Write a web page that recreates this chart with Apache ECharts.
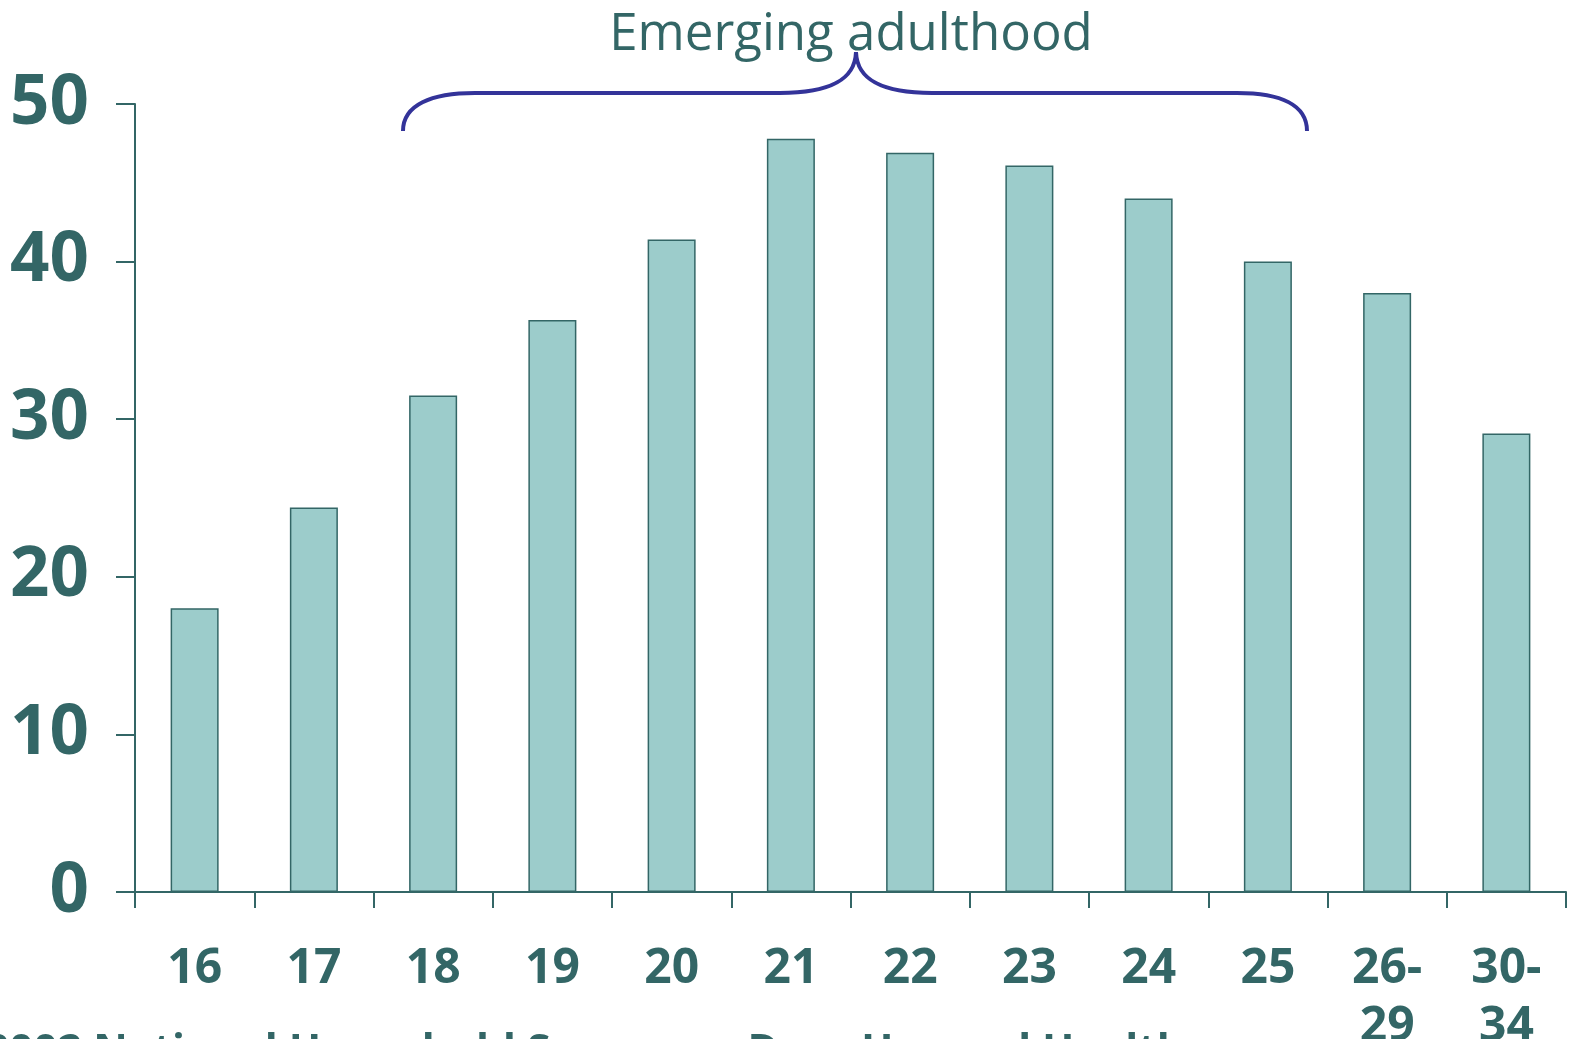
<!DOCTYPE html>
<html><head><meta charset="utf-8">
<script src="https://cdn.jsdelivr.net/npm/echarts@6/dist/echarts.min.js"></script>
<style>html,body{margin:0;padding:0;background:#fff;}#c{width:1579px;height:1039px;}</style>
</head><body><div id="c"></div>
<script>
const categories = ['16','17','18','19','20','21','22','23','24','25','26-\n29','30-\n34'];
const values = [18, 24.4, 31.5, 36.3, 41.4, 47.8, 46.9, 46.1, 44.0, 40.0, 38.0, 29.1];
const yTicks = [0, 10, 20, 30, 40, 50];
const bracketLabel = 'Emerging adulthood';
const sourceNote = '2002 National Household Survey on Drug Use and Health';

const teal = '#336666';
const braceStyle = {stroke: '#333399', lineWidth: 4, fill: 'none'};
function bez(x1,y1,c1x,c1y,c2x,c2y,x2,y2){
  return {type: 'bezierCurve', shape: {x1:x1,y1:y1,cpx1:c1x,cpy1:c1y,cpx2:c2x,cpy2:c2y,x2:x2,y2:y2}, style: braceStyle};
}
function seg(x1,y1,x2,y2){
  return {type: 'line', shape: {x1:x1,y1:y1,x2:x2,y2:y2}, style: braceStyle};
}
const chart = echarts.init(document.getElementById('c'), null, {renderer: 'canvas'});
chart.setOption({
  animation: false,
  grid: {left: 135, right: 13, top: 104, bottom: 147, containLabel: false, outerBoundsMode: 'none'},
  xAxis: {
    type: 'category', data: categories, boundaryGap: true,
    axisLine: {lineStyle: {color: teal, width: 2}},
    axisTick: {show: true, alignWithLabel: false, length: 16, lineStyle: {color: teal, width: 2}},
    axisLabel: {color: teal, fontFamily: 'Open Sans', fontWeight: 'bold', fontSize: 48, lineHeight: 58, margin: 48, interval: 0}
  },
  yAxis: {
    type: 'value', min: yTicks[0], max: yTicks[yTicks.length - 1], interval: 10,
    splitLine: {show: false},
    axisLine: {show: true, lineStyle: {color: teal, width: 2}},
    axisTick: {show: true, inside: false, length: 19, lineStyle: {color: teal, width: 2}},
    axisLabel: {color: teal, fontFamily: 'Open Sans', fontWeight: 'bold', fontSize: 69, margin: 46}
  },
  series: [{
    type: 'bar', data: values, barWidth: 48,
    itemStyle: {color: '#9ccccb', borderColor: teal, borderWidth: 1.5}
  }],
  graphic: [
    bez(403,131, 403,105, 431,93, 475,93),
    seg(475,93, 780,93),
    bez(780,93, 828,93, 855,81, 856,52),
    bez(856,52, 857,81, 884,93, 932,93),
    seg(932,93, 1237,93),
    bez(1237,93, 1281,93, 1307,105, 1307,131),
    {type: 'text', x: 851, y: 10, style: {text: bracketLabel, fill: teal, font: 'normal 51px "Open Sans"', textAlign: 'center', textVerticalAlign: 'top'}},
    {type: 'text', left: -15, top: 1031, style: {text: sourceNote, fill: teal, font: 'bold 42.5px "Open Sans"'}}
  ]
});
</script></body></html>
